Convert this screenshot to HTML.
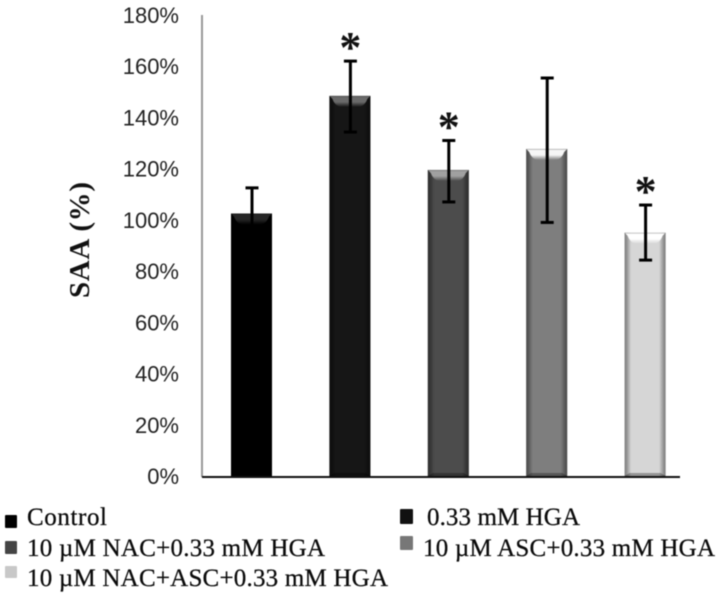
<!DOCTYPE html>
<html lang="en">
<head>
<meta charset="utf-8">
<title>SAA bar chart</title>
<style>
html,body{margin:0;padding:0;background:#fff;width:720px;height:596px;overflow:hidden}
svg{display:block;filter:blur(0.5px)}
.tick{font-family:"Liberation Sans",sans-serif;font-size:22px;fill:#222;text-anchor:end}
.legend{font-family:"Liberation Serif",serif;font-size:25px;fill:#0a0a0a;stroke:#0a0a0a;stroke-width:0.25px}
.ytitle{font-family:"Liberation Serif",serif;font-size:29px;font-weight:bold;fill:#111}
.star{font-family:"Liberation Serif",serif;font-size:44px;font-weight:bold;fill:#111;text-anchor:middle}
</style>
</head>
<body>
<svg id="chart" xmlns="http://www.w3.org/2000/svg" width="720" height="596" viewBox="0 0 720 596">
  <defs id="defs">
    <linearGradient id="sideShade" x1="0" y1="0" x2="1" y2="0">
      <stop offset="0" stop-color="#000" stop-opacity="0.42"/>
      <stop offset="0.05" stop-color="#000" stop-opacity="0.32"/>
      <stop offset="0.16" stop-color="#000" stop-opacity="0"/>
      <stop offset="0.84" stop-color="#000" stop-opacity="0"/>
      <stop offset="0.95" stop-color="#000" stop-opacity="0.32"/>
      <stop offset="1" stop-color="#000" stop-opacity="0.42"/>
    </linearGradient>
  </defs>
  <text class="ytitle" transform="translate(89 298) rotate(-90)" textLength="116" lengthAdjust="spacing">SAA (%)</text>
  <g id="ticks"></g>
  <g id="bars"></g>
  <rect x="201" y="15" width="2" height="462" fill="#999"/>
  <rect x="202" y="476" width="478" height="2" fill="#111"/>
  <g id="errors"></g>
  <g id="stars"></g>

  <g>
    <rect x="5" y="515" width="12" height="13" rx="1" fill="#000"/>
    <text class="legend" x="27" y="525" textLength="80" lengthAdjust="spacing">Control</text>
    <rect x="400" y="509" width="13" height="15" rx="1" fill="#111"/>
    <text class="legend" x="427" y="525" textLength="153" lengthAdjust="spacing">0.33 mM HGA</text>
    <rect x="5" y="541" width="12" height="13" rx="1" fill="#444"/>
    <text class="legend" x="27" y="556" textLength="298" lengthAdjust="spacing">10 µM NAC+0.33 mM HGA</text>
    <rect x="400" y="536" width="13" height="14" rx="1" fill="#777"/>
    <text class="legend" x="423" y="556" textLength="292" lengthAdjust="spacing">10 µM ASC+0.33 mM HGA</text>
    <rect x="5" y="566" width="12" height="12" rx="1" fill="#c8c8c8"/>
    <text class="legend" x="27" y="586" textLength="361" lengthAdjust="spacing">10 µM NAC+ASC+0.33 mM HGA</text>
  </g>
</svg>
<script>
var categories = ["Control", "0.33 mM HGA", "10 uM NAC+0.33 mM HGA", "10 uM ASC+0.33 mM HGA", "10 uM NAC+ASC+0.33 mM HGA"];
var values = [102.5, 148.4, 119.5, 127.7, 95];
var errorHigh = [112.5, 162, 131, 155.4, 105.8];
var errorLow = [92, 134.3, 107, 99, 84.3];
var significant = [false, true, true, false, true];
var tickValues = [0, 20, 40, 60, 80, 100, 120, 140, 160, 180];

var bodyColors = ["#000000", "#161616", "#4c4c4c", "#7e7e7e", "#d6d6d6"];
var capColors = ["#262626", "#6a6a6a", "#a0a0a0", "#f6f6f6", "#ffffff"];

var NS = "http://www.w3.org/2000/svg";
function yScale(v) { return 476 - v * (461 / 180); }
function xScale(i) { return 251.5 + i * 98.4; }
var barWidth = 41;
function make(tag, parent) {
  var el = document.createElementNS(NS, tag);
  document.getElementById(parent).appendChild(el);
  return el;
}

tickValues.forEach(function (t) {
  var el = make("text", "ticks");
  
  
  el.setAttribute("class", "tick");
  el.setAttribute("x", 179);
  el.setAttribute("y", yScale(t) + 8);
  el.textContent = t + "%";
});

values.forEach(function (v, i) {
  var cx = xScale(i), left = cx - barWidth / 2, right = cx + barWidth / 2;
  var top = yScale(v), base = yScale(0), capH = 11;

  var grad = make("linearGradient", "defs");
  grad.setAttribute("id", "capGrad" + i);
  grad.setAttribute("x1", "0");
  grad.setAttribute("y1", "0");
  grad.setAttribute("x2", "0");
  grad.setAttribute("y2", "1");
  var s1 = document.createElementNS(NS, "stop");
  s1.setAttribute("offset", "0");
  s1.setAttribute("stop-color", capColors[i]);
  grad.appendChild(s1);
  var s2 = document.createElementNS(NS, "stop");
  s2.setAttribute("offset", "0.55");
  s2.setAttribute("stop-color", capColors[i]);
  grad.appendChild(s2);
  var s3 = document.createElementNS(NS, "stop");
  s3.setAttribute("offset", "1");
  s3.setAttribute("stop-color", bodyColors[i]);
  grad.appendChild(s3);

  var body = make("rect", "bars");
  
  
  body.setAttribute("x", left);
  body.setAttribute("y", top);
  body.setAttribute("width", barWidth);
  body.setAttribute("height", base - top);
  body.setAttribute("fill", bodyColors[i]);

  var shade = make("rect", "bars");
  
  
  shade.setAttribute("x", left);
  shade.setAttribute("y", top);
  shade.setAttribute("width", barWidth);
  shade.setAttribute("height", base - top);
  shade.setAttribute("fill", "url(#sideShade)");

  var cap = make("path", "bars");
  
  
  cap.setAttribute("d", "M" + left + " " + top + " L" + right + " " + top +
    " L" + (right - 3) + " " + (top + 3) +
    " Q" + (right - 6) + " " + (top + capH) + " " + (right - 13) + " " + (top + capH) +
    " L" + (left + 13) + " " + (top + capH) +
    " Q" + (left + 6) + " " + (top + capH) + " " + (left + 3) + " " + (top + 3) + " Z");
  cap.setAttribute("fill", "url(#capGrad" + i + ")");

  var rim = make("rect", "bars");
  
  
  rim.setAttribute("x", left);
  rim.setAttribute("y", top);
  rim.setAttribute("width", barWidth);
  rim.setAttribute("height", 1);
  rim.setAttribute("fill", "#000");
  rim.setAttribute("fill-opacity", "0.22");

  var foot = make("polygon", "bars");
  
  
  foot.setAttribute("points", [left, base, right, base, right - 5, base - 3, left + 5, base - 3].join(" "));
  foot.setAttribute("fill", "#000");
  foot.setAttribute("fill-opacity", "0.3");

  var hi = yScale(errorHigh[i]), lo = yScale(errorLow[i]), ex = cx + 0.5;

  var stem = make("line", "errors");
  
  
  stem.setAttribute("x1", ex);
  stem.setAttribute("x2", ex);
  stem.setAttribute("y1", hi);
  stem.setAttribute("y2", lo);
  stem.setAttribute("stroke", "#000");
  stem.setAttribute("stroke-width", 3);

  var capHi = make("line", "errors");
  
  
  capHi.setAttribute("x1", ex - 6.5);
  capHi.setAttribute("x2", ex + 6.5);
  capHi.setAttribute("y1", hi);
  capHi.setAttribute("y2", hi);
  capHi.setAttribute("stroke", "#000");
  capHi.setAttribute("stroke-width", 3);

  var capLo = make("line", "errors");
  
  
  capLo.setAttribute("x1", ex - 6.5);
  capLo.setAttribute("x2", ex + 6.5);
  capLo.setAttribute("y1", lo);
  capLo.setAttribute("y2", lo);
  capLo.setAttribute("stroke", "#000");
  capLo.setAttribute("stroke-width", 3);

  if (significant[i]) {
    var star = make("text", "stars");
    
    
    star.setAttribute("class", "star");
    star.setAttribute("x", ex);
    star.setAttribute("y", hi + 1);
    star.textContent = "*";
  }
});
</script>
</body>
</html>
